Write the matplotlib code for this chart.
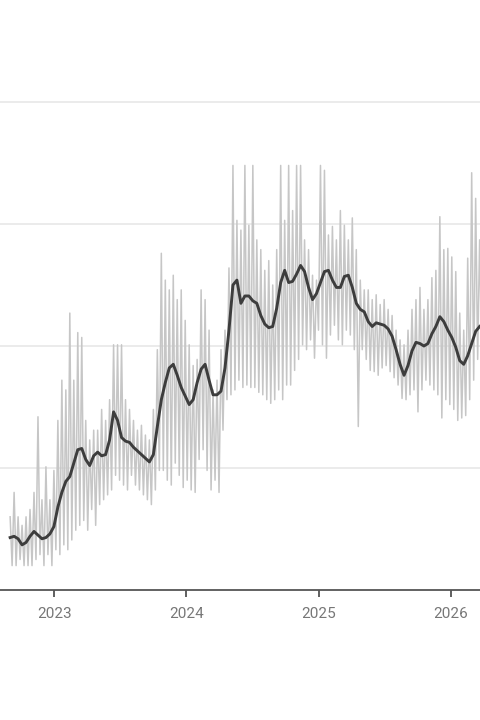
import numpy as np
import pandas as pd
import matplotlib
matplotlib.use("Agg")
import matplotlib.pyplot as plt

plt.rcParams['font.family'] = ['Roboto', 'DejaVu Sans']

# sampling grid: one upper/lower pair every 11 days
start_date = "2022-09-01"

# rolling average (dark line)
smooth = [0.43, 0.44, 0.42, 0.37, 0.39, 0.44, 0.48, 0.45, 0.42, 0.43,
          0.46, 0.52, 0.68, 0.80, 0.89, 0.93, 1.04, 1.15, 1.16, 1.07,
          1.02, 1.10, 1.13, 1.10, 1.11, 1.23, 1.46, 1.39, 1.25, 1.22,
          1.21, 1.17, 1.14, 1.11, 1.08, 1.05, 1.11, 1.34, 1.56, 1.70,
          1.82, 1.85, 1.76, 1.66, 1.59, 1.52, 1.56, 1.70, 1.81, 1.85,
          1.72, 1.60, 1.60, 1.63, 1.82, 2.13, 2.50, 2.54, 2.35, 2.41,
          2.41, 2.37, 2.35, 2.25, 2.18, 2.15, 2.16, 2.31, 2.52, 2.62,
          2.52, 2.53, 2.59, 2.66, 2.61, 2.48, 2.38, 2.43, 2.52, 2.61,
          2.62, 2.54, 2.48, 2.48, 2.57, 2.58, 2.48, 2.35, 2.30, 2.28,
          2.20, 2.16, 2.19, 2.18, 2.17, 2.14, 2.08, 1.97, 1.85, 1.76,
          1.84, 1.96, 2.03, 2.02, 2.00, 2.02, 2.10, 2.16, 2.24, 2.20,
          2.13, 2.07, 1.99, 1.88, 1.85, 1.92, 2.02, 2.12, 2.16]

# raw series, upper swings
raw_hi = [0.60, 0.80, 0.60, 0.53, 0.60, 0.66, 0.80, 1.42, 0.74, 1.01,
          0.74, 0.98, 1.39, 1.72, 1.64, 2.27, 1.72, 2.11, 2.07, 1.39,
          1.23, 1.31, 1.31, 1.48, 1.39, 1.56, 2.01, 2.01, 2.01, 1.56,
          1.48, 1.39, 1.31, 1.35, 1.27, 1.23, 1.48, 1.97, 2.76, 2.54,
          2.46, 2.58, 2.38, 2.46, 2.21, 2.01, 1.84, 1.89, 2.46, 2.38,
          2.13, 1.64, 1.72, 1.97, 2.13, 2.64, 3.48, 3.03, 2.95, 3.48,
          2.99, 3.48, 2.87, 2.79, 2.62, 2.70, 2.50, 2.79, 3.48, 3.03,
          3.48, 3.11, 3.48, 3.48, 2.87, 2.79, 2.58, 2.54, 3.48, 3.44,
          2.91, 2.98, 2.87, 3.11, 2.99, 2.87, 3.05, 2.79, 2.54, 2.46,
          2.46, 2.38, 2.42, 2.34, 2.38, 2.30, 2.25, 2.13, 2.05, 2.01,
          2.13, 2.30, 2.38, 2.48, 2.30, 2.38, 2.56, 2.62, 3.06, 2.79,
          2.80, 2.73, 2.61, 2.27, 2.13, 2.72, 3.42, 3.21, 2.87]

# raw series, lower swings
raw_lo = [0.20, 0.20, 0.25, 0.20, 0.20, 0.20, 0.25, 0.29, 0.20, 0.29,
          0.20, 0.33, 0.29, 0.37, 0.33, 0.41, 0.49, 0.53, 0.57, 0.49,
          0.66, 0.53, 0.70, 0.74, 0.78, 0.82, 0.94, 0.90, 0.86, 0.82,
          0.94, 0.86, 0.82, 0.78, 0.74, 0.70, 0.82, 0.98, 0.98, 0.90,
          0.86, 1.04, 0.94, 0.84, 0.90, 0.82, 0.80, 1.07, 1.15, 0.98,
          0.82, 0.90, 0.80, 1.31, 1.56, 1.60, 1.64, 1.72, 1.66, 1.68,
          1.66, 1.66, 1.62, 1.60, 1.56, 1.53, 1.56, 1.64, 1.56, 1.68,
          1.68, 1.80, 1.89, 2.01, 1.97, 2.05, 1.90, 2.13, 2.01, 1.90,
          2.09, 2.17, 2.05, 2.01, 2.13, 2.09, 1.97, 1.34, 1.97, 1.89,
          1.80, 1.79, 1.76, 1.82, 1.84, 1.79, 1.74, 1.68, 1.57, 1.56,
          1.60, 1.64, 1.46, 1.64, 1.72, 1.68, 1.64, 1.60, 1.41, 1.56,
          1.52, 1.48, 1.39, 1.41, 1.43, 1.56, 1.72, 1.89, 1.97]

year_ticks = ["2023-01-01", "2024-01-01", "2025-01-01", "2026-01-01"]
year_labels = ["2023", "2024", "2025", "2026"]

# interleave the swings so the raw series zigzags like the daily data
raw = np.column_stack([raw_hi, raw_lo]).ravel()
raw_dates = pd.date_range(start_date, periods=len(raw), freq="132h")
smooth_dates = raw_dates[::2]

fig = plt.figure(figsize=(4.8, 7.2), dpi=100)
ax = fig.add_axes([0, 130 / 720, 1, 590 / 720])

ax.plot(raw_dates, raw, color="#c6c6c6", lw=1.1, zorder=2)
ax.plot(smooth_dates, smooth, color="#3d3d3d", lw=2.1, zorder=3,
        solid_joinstyle="round")

ax.set_xlim(pd.Timestamp("2022-08-04"), pd.Timestamp("2026-03-23"))
ax.set_ylim(0, 4.836)

ax.set_yticks([1, 2, 3, 4])
ax.yaxis.grid(True, color="#e8e8e8", lw=1.2, zorder=0)
ax.tick_params(axis="y", length=0, labelleft=False)

ax.set_xticks(pd.to_datetime(year_ticks))
ax.set_xticklabels(year_labels)
ax.tick_params(axis="x", direction="out", length=5, width=1.2,
               color="#444444", labelcolor="#777777", labelsize=11, pad=7)

for side in ["left", "right", "top"]:
    ax.spines[side].set_visible(False)
ax.spines["bottom"].set_color("#555555")
ax.spines["bottom"].set_linewidth(1.3)
ax.set_facecolor("white")

fig.savefig("out.png", dpi=100, facecolor="white")
